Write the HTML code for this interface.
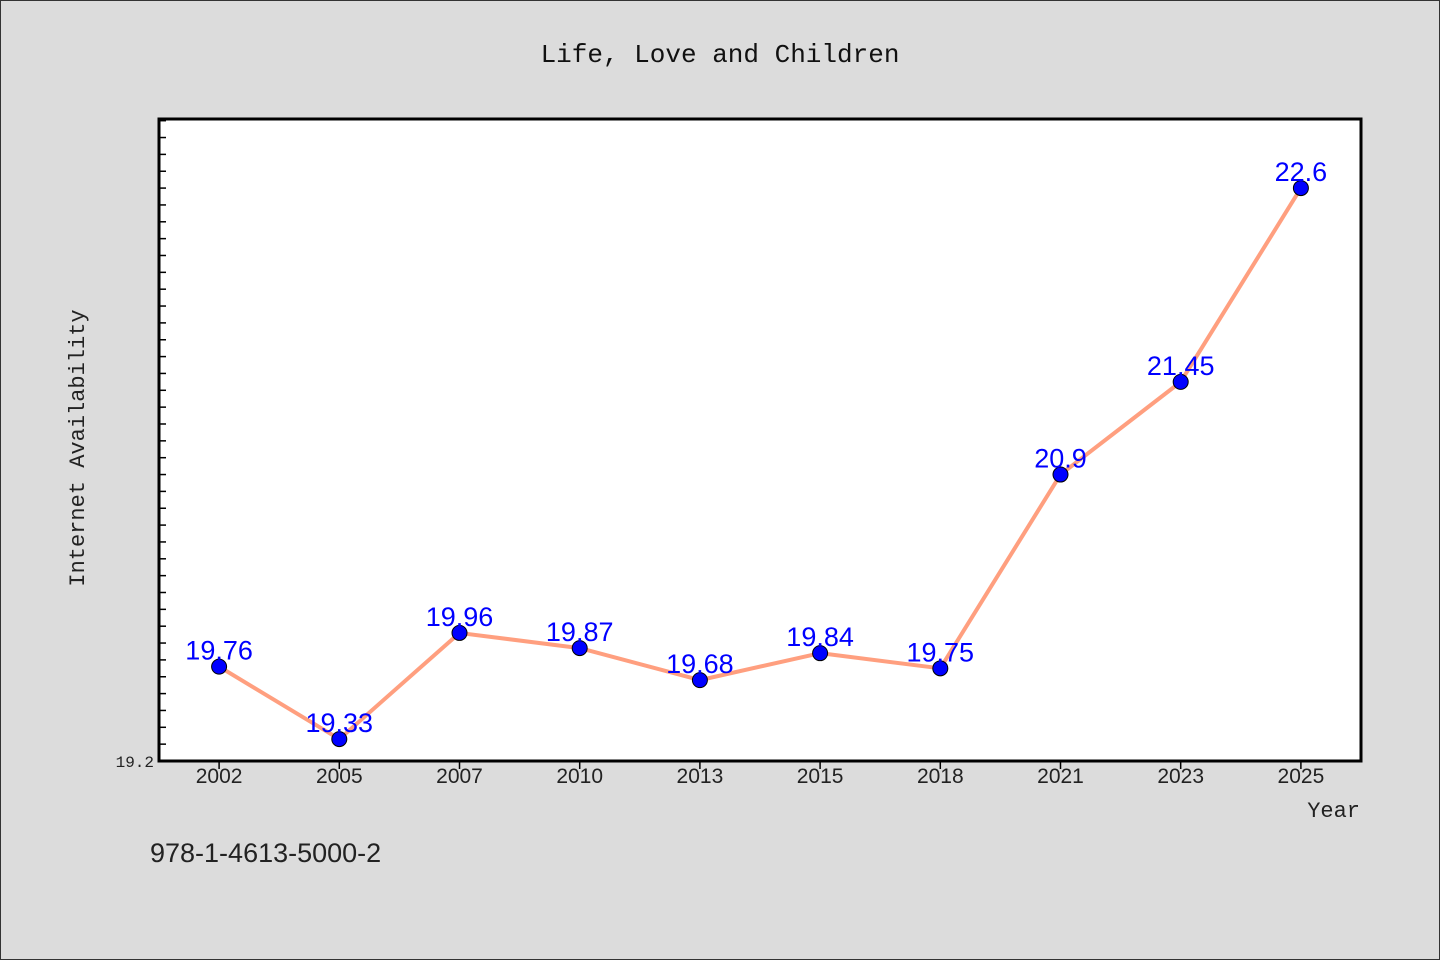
<!DOCTYPE html>
<html><head><meta charset="utf-8"><style>
html,body{margin:0;padding:0;background:#dcdcdc;}
svg{display:block;}
</style></head><body>
<svg id="chart" width="1440" height="960" xmlns="http://www.w3.org/2000/svg">
<rect x="0.5" y="0.5" width="1439" height="959" fill="#dcdcdc" stroke="#333"/>
<text x="720" y="62" text-anchor="middle" font-family="'Liberation Mono',monospace" font-size="26" fill="#111">Life, Love and Children</text>
<rect x="159" y="119" width="1202" height="642" fill="#fff"/>
<g id="yticks"></g><g id="xticks"></g>
<rect x="159" y="119" width="1202" height="642" fill="none" stroke="#000" stroke-width="3"/>
<text x="154" y="767" text-anchor="end" font-family="'Liberation Mono',monospace" font-size="16" fill="#222">19.2</text>
<text transform="translate(84,448) rotate(-90)" text-anchor="middle" font-family="'Liberation Mono',monospace" font-size="22" fill="#222">Internet Availability</text>
<text x="1360" y="817" text-anchor="end" font-family="'Liberation Mono',monospace" font-size="22" fill="#222">Year</text>
<text x="150" y="862" font-family="'Liberation Sans',sans-serif" font-size="27" fill="#222">978-1-4613-5000-2</text>
<g id="series"></g>
</svg>
<script>
const categories=["2002","2005","2007","2010","2013","2015","2018","2021","2023","2025"];
const values=[19.76,19.33,19.96,19.87,19.68,19.84,19.75,20.9,21.45,22.6];
const labels=["19.76","19.33","19.96","19.87","19.68","19.84","19.75","20.9","21.45","22.6"];
const yMin=19.2,yMax=23.01;
const L=159,R=1361,T=119,B=761;
const NS="http://www.w3.org/2000/svg";
function xs(i){const w=(R-L)/categories.length;return L+w*(i+0.5);}
function ys(v){return B-(v-yMin)/(yMax-yMin)*(B-T);}
function mk(t,a,p){const e=document.createElementNS(NS,t);for(const k in a)e.setAttribute(k,a[k]);p.appendChild(e);return e;}
const yt=document.getElementById('yticks');
for(let v=yMin+0.1;v<yMax;v+=0.1){const y=ys(v);
 const l=mk('line',{x1:L,x2:L+7,y1:y,y2:y,stroke:'#000','stroke-width':1.5},yt);
 
 }
const xt=document.getElementById('xticks');
categories.forEach((c,i)=>{const x=xs(i);
 const l=mk('line',{x1:x,x2:x,y1:B,y2:B+8,stroke:'#000','stroke-width':1.5},xt);
 
 
 const t=mk('text',{x:x,y:B+22,'text-anchor':'middle','font-family':"'Liberation Sans',sans-serif",'font-size':21,fill:'#222'},xt);
 t.textContent=c;
 
 });
const s=document.getElementById('series');
const pl=mk('polyline',{points:values.map((v,i)=>xs(i)+','+ys(v)).join(' '),fill:'none',stroke:'#ff9f7f','stroke-width':4,'stroke-linejoin':'round'},s);


values.forEach((v,i)=>{
 const c=mk('circle',{cx:xs(i),cy:ys(v),r:7.5,fill:'#0000ff',stroke:'#000','stroke-width':1},s);
 
 });
values.forEach((v,i)=>{
 const t=mk('text',{x:xs(i),y:ys(v)-7,'text-anchor':'middle','font-family':"'Liberation Sans',sans-serif",'font-size':27,fill:'#0000ff'},s);
 t.textContent=labels[i];
 
 });
</script>
</body></html>
